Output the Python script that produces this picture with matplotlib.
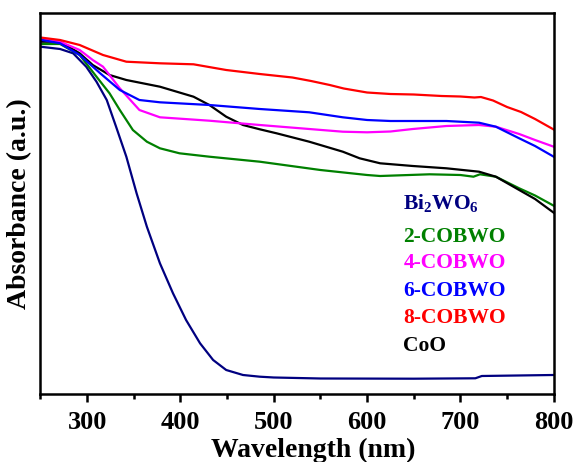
import numpy as np
import matplotlib
matplotlib.use('Agg')
import matplotlib.pyplot as plt
from matplotlib.ticker import MultipleLocator

plt.rcParams.update({
    'font.family': 'Liberation Serif', 'font.weight': 'bold',
    'axes.labelweight': 'bold',
    'mathtext.fontset': 'custom', 'mathtext.rm': 'Liberation Serif:bold',
    'mathtext.bf': 'Liberation Serif:bold', 'mathtext.it': 'Liberation Serif:bold',
    'axes.linewidth': 1.8,
})

# wavelength (nm) / absorbance (a.u.)
wl_bwo = [250, 271, 285, 299, 310, 321, 331, 342, 353, 364, 378, 392, 406, 421,
          435, 449, 467, 485, 500, 550, 650, 716, 723, 800]
ab_bwo = [347.3, 345, 340.7, 327.3, 312.3, 294, 267.3, 237.3, 200.7, 167.3, 130.7,
          100.7, 74, 50.7, 34, 24, 19, 17.3, 16.5, 15.5, 15.3, 15.7, 18, 19]

wl_2 = [250, 271, 292, 310, 324, 335, 349, 364, 378, 399, 431, 485, 550, 600, 614,
        667, 700, 714, 721, 738, 763, 780, 800]
ab_2 = [350, 350, 339, 317.3, 300.7, 284, 264, 252.3, 245.7, 240.7, 237.3, 232.3,
        224, 219, 218, 219.7, 219, 217.3, 219.7, 217.3, 205.7, 198.5, 188.3]

wl_4 = [250, 271, 292, 306, 317, 335, 356, 378, 431, 485, 538, 574, 600, 625, 649,
        685, 720, 738, 763, 780, 800]
ab_4 = [355.7, 352.3, 344, 334, 327.3, 305.7, 284, 276.7, 273.3, 269, 265, 262.3,
        261.7, 262.5, 265, 268, 269, 267.3, 260, 254, 247.3]

wl_6 = [250, 271, 292, 314, 335, 356, 378, 431, 485, 538, 574, 600, 625, 685, 720,
        738, 763, 780, 800]
ab_6 = [354.3, 350.7, 339, 320.7, 304, 294, 291.7, 289, 285, 281.7, 276.7, 274,
        273, 273, 271.3, 267.3, 255.7, 248, 237.3]

wl_8 = [250, 271, 292, 317, 342, 378, 414, 449, 485, 520, 540, 560, 575, 600, 625,
        650, 680, 700, 715, 722, 735, 750, 765, 780, 800]
ab_8 = [356.5, 354, 349, 339, 332.3, 330.7, 329.7, 324, 320, 316.5, 313, 309, 305.5,
        301.5, 300, 299.5, 298, 297.5, 296.5, 297, 293.5, 287, 282, 275, 264.5]

wl_coo = [250, 271, 292, 306, 324, 342, 378, 414, 431, 449, 467, 485, 503, 538, 574,
          592, 614, 649, 685, 720, 738, 763, 780, 800]
ab_coo = [352.3, 352.3, 340.7, 329, 319, 314, 307.3, 297.3, 289, 277.3, 269, 264.7,
          260.7, 252.3, 242.3, 235.7, 230.7, 228, 225.7, 222.3, 217.3, 204, 195, 181.3]

labels = [r'Bi$_2$WO$_6$', '2-COBWO', '4-COBWO', '6-COBWO', '8-COBWO', 'CoO']
colors = ['#000080', '#008000', '#ff00ff', '#0000ff', '#ff0000', '#000000']
series = [(wl_bwo, ab_bwo), (wl_2, ab_2), (wl_4, ab_4), (wl_6, ab_6),
          (wl_8, ab_8), (wl_coo, ab_coo)]

fig = plt.figure(figsize=(5.76, 4.62), dpi=100)
ax = fig.add_axes([0.0703, 0.1472, 0.8910, 0.8253])

# draw order: navy, green, black, magenta, blue, red on top
for i in [0, 1, 5, 2, 3, 4]:
    x, y = series[i]
    ax.plot(x, y, color=colors[i], lw=1.6, solid_joinstyle='round')

ax.set_xlim(250, 800)
ax.set_ylim(0, 381.3)
ax.xaxis.set_major_locator(MultipleLocator(100))
ax.xaxis.set_minor_locator(MultipleLocator(50))
ax.tick_params(axis='x', which='major', direction='out', length=6, width=1.8,
               labelsize=19, pad=6)
ax.tick_params(axis='x', which='minor', direction='out', length=3.5, width=1.8)
ax.set_yticks([])
ax.set_xlabel('Wavelength (nm)', fontsize=20, fontweight='bold')
ax.xaxis.set_label_coords(0.532, -0.115)
ax.set_ylabel('Absorbance (a.u.)', fontsize=20, fontweight='bold', labelpad=6)

# coloured text legend
leg_y = [202.7, 237.3, 263.3, 291, 317.7, 345.7]
for lab, col, yp in zip(labels, colors, leg_y):
    fig.text(403.3 / 576, 1 - yp / 462, lab, color=col, fontsize=15.5,
             fontweight='bold', ha='left', va='center')

fig.savefig('out.png', dpi=100)
